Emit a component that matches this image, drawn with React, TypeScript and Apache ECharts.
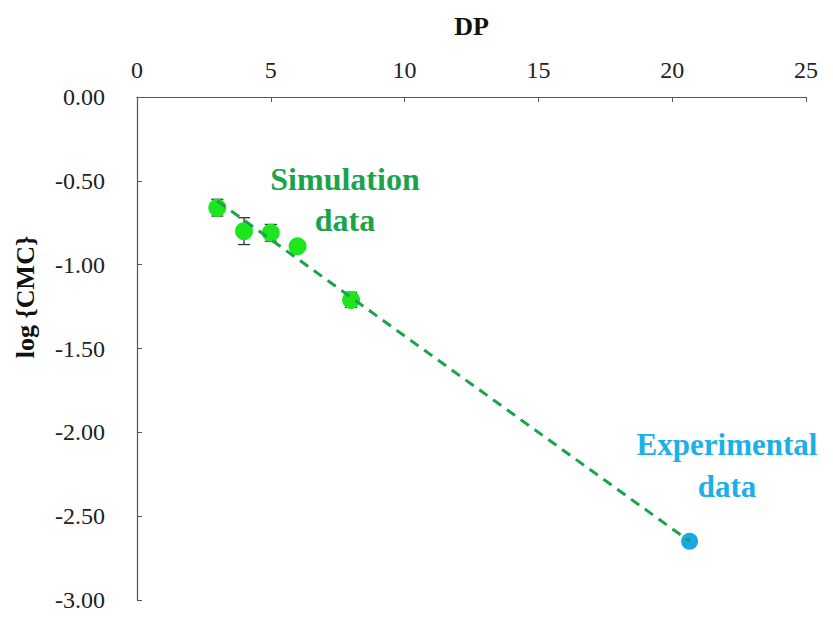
import React, { useEffect, useRef } from "react";
import * as echarts from "echarts";

const xTicks = [0, 5, 10, 15, 20, 25];
const yTickLabels = ["0.00", "-0.50", "-1.00", "-1.50", "-2.00", "-2.50", "-3.00"];

const simDP = [3, 4, 5, 6, 8];
const simLogCMC = [-0.66, -0.8, -0.81, -0.89, -1.21];
const simErr = [0.05, 0.08, 0.05, 0.01, 0.045];

const expDP = [20.65];
const expLogCMC = [-2.65];

const fitDP = [3, 20.65];
const fitLogCMC = [-0.62, -2.65];

const FONT = "'Liberation Serif', 'Times New Roman', serif";

export default function App() {
  const ref = useRef<HTMLDivElement>(null);
  useEffect(() => {
    if (!ref.current) return;
    const chart = echarts.init(ref.current, null, { renderer: "svg" });
    const errData = simDP.map((x, i) => [x, simLogCMC[i] - simErr[i], simLogCMC[i] + simErr[i]]);
    const annot = (text: string, x: number, y: number, color: string, size: number, rotation = 0) => ({
      type: "text",
      x,
      y,
      rotation,
      style: {
        text,
        align: "center",
        verticalAlign: "middle",
        textAlign: "center",
        textVerticalAlign: "middle",
        fill: color,
        font: `bold ${size}px ${FONT}`,
      },
    });
    chart.setOption({
      animation: false,
      backgroundColor: "#ffffff",
      textStyle: { fontFamily: FONT },
      grid: { left: 129, top: 87, right: 19, bottom: 8, containLabel: false },
      xAxis: {
        type: "value",
        position: "top",
        min: xTicks[0],
        max: xTicks[xTicks.length - 1],
        interval: 5,
        name: "DP",
        nameLocation: "middle",
        nameGap: 58,
        nameTextStyle: { fontFamily: FONT, fontWeight: "bold", fontSize: 26, color: "#111" },
        axisLine: { show: true, lineStyle: { color: "#555", width: 1.2 } },
        axisTick: { show: true, inside: true, length: 5, lineStyle: { color: "#555" } },
        axisLabel: { fontFamily: FONT, fontSize: 24, color: "#222", margin: 15 },
        splitLine: { show: false },
      },
      yAxis: {
        type: "value",
        min: -3,
        max: 0,
        interval: 0.5,
        axisLine: { show: true, lineStyle: { color: "#555", width: 1.2 } },
        axisTick: { show: true, inside: true, length: 5, lineStyle: { color: "#555" } },
        axisLabel: {
          fontFamily: FONT,
          fontSize: 24,
          color: "#222",
          margin: 32,
          formatter: (v: number) => {
            const idx = Math.round(-v / 0.5);
            return yTickLabels[idx] ?? v.toFixed(2);
          },
        },
        splitLine: { show: false },
      },
      series: [
        {
          type: "custom",
          data: errData,
          z: 2,
          renderItem: (params: any, api: any) => {
            const x = api.value(0);
            const lo = api.value(1);
            const hi = api.value(2);
            const pTop = api.coord([x, hi]);
            const pBot = api.coord([x, lo]);
            const w = 6;
            const style = { stroke: "#333", lineWidth: 1.3 };
            return {
              type: "group",
              children: [
                { type: "line", shape: { x1: pTop[0], y1: pTop[1], x2: pBot[0], y2: pBot[1] }, style },
                { type: "line", shape: { x1: pTop[0] - w, y1: pTop[1], x2: pTop[0] + w, y2: pTop[1] }, style },
                { type: "line", shape: { x1: pBot[0] - w, y1: pBot[1], x2: pBot[0] + w, y2: pBot[1] }, style },
              ],
            };
          },
        },
        {
          type: "scatter",
          data: simDP.map((x, i) => [x, simLogCMC[i]]),
          symbol: "circle",
          symbolSize: 18,
          itemStyle: { color: "#1ee61e", opacity: 1 },
          z: 3,
        },
        {
          type: "scatter",
          data: expDP.map((x, i) => [x, expLogCMC[i]]),
          symbol: "circle",
          symbolSize: 17,
          itemStyle: { color: "#18a8e8", opacity: 1 },
          z: 3,
        },
        {
          type: "line",
          data: fitDP.map((x, i) => [x, fitLogCMC[i]]),
          symbol: "none",
          lineStyle: { color: "#1ba34c", width: 3, type: [10, 7] },
          z: 4,
        },
      ],
      graphic: [
        annot("Simulation", 337, 171, "#1ba34c", 32),
        annot("data", 337, 212, "#1ba34c", 32),
        annot("Experimental", 719, 436, "#1cb0e6", 31),
        annot("data", 719, 478, "#1cb0e6", 31),
        annot("log {CMC}", 17, 289, "#111", 26, Math.PI / 2),
      ],
    });
    return () => chart.dispose();
  }, []);
  return <div ref={ref} style={{ width: 817, height: 604 }} />;
}
